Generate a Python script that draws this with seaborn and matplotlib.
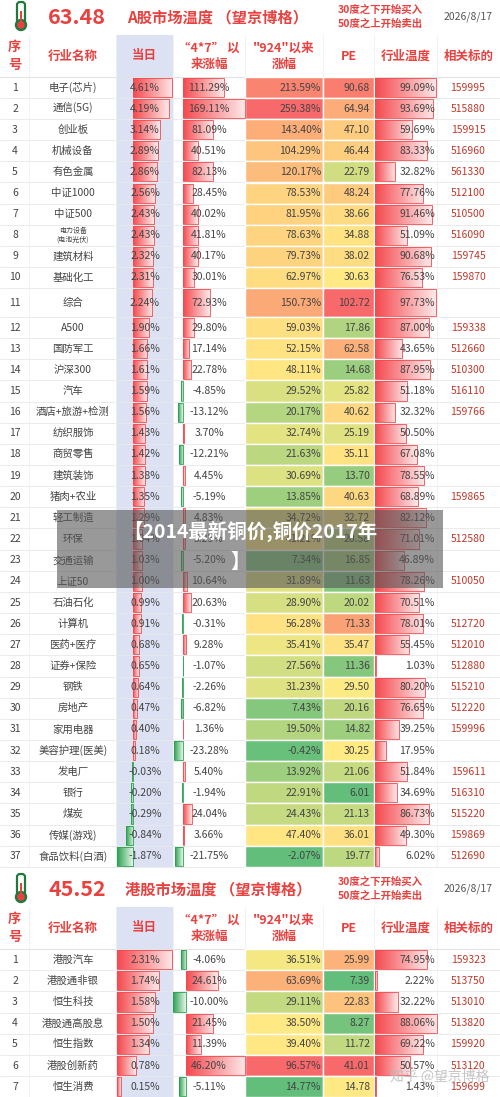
import numpy as np
import matplotlib
matplotlib.use("Agg")
import matplotlib.pyplot as plt
from matplotlib.colors import LinearSegmentedColormap, TwoSlopeNorm
from matplotlib.patches import Rectangle, Circle, FancyBboxPatch
import seaborn as sns

sns.set_theme(style="white")
plt.rcParams['font.family'] = ['Noto Sans CJK SC', 'DejaVu Sans']

# ---------------- data ----------------
a_temp = "63.48"
a_names = ["电子(芯片)", "通信(5G)", "创业板", "机械设备", "有色金属", "中证1000", "中证500", "电力设备\n(电池光伏)",
           "建筑材料", "基础化工", "综合", "A500", "国防军工", "沪深300", "汽车", "酒店+旅游+检测", "纺织服饰",
           "商贸零售", "建筑装饰", "猪肉+农业", "轻工制造", "环保", "交通运输", "上证50", "石油石化", "计算机",
           "医药+医疗", "证券+保险", "钢铁", "房地产", "家用电器", "美容护理(医美)", "发电厂", "银行", "煤炭",
           "传媒(游戏)", "食品饮料(白酒)"]
a_day = [4.61, 4.19, 3.14, 2.89, 2.86, 2.56, 2.43, 2.43, 2.32, 2.31, 2.24, 1.90, 1.66, 1.61, 1.59, 1.56, 1.43,
         1.42, 1.38, 1.35, 1.29, 1.04, 1.03, 1.00, 0.99, 0.91, 0.68, 0.65, 0.64, 0.47, 0.40, 0.18, -0.03, -0.20,
         -0.29, -0.84, -1.87]
a_47 = [111.29, 169.11, 81.09, 40.51, 82.13, 28.45, 40.02, 41.81, 40.17, 30.01, 72.93, 29.80, 17.14, 22.78, -4.85,
        -13.12, 3.70, -12.21, 4.45, -5.19, 4.83, 5.25, -5.20, 10.64, 20.63, -0.31, 9.28, -1.07, -2.26, -6.82, 1.36,
        -23.28, 5.40, -1.94, 24.04, 3.66, -21.75]
a_924 = [213.59, 259.38, 143.40, 104.29, 120.17, 78.53, 81.95, 78.63, 79.73, 62.97, 150.73, 59.03, 52.15, 48.11,
         29.52, 20.17, 32.74, 21.63, 30.69, 13.85, 34.72, 41.21, 7.34, 31.89, 28.90, 56.28, 35.41, 27.56, 31.23, 7.43,
         19.50, -0.42, 13.92, 22.91, 24.43, 47.40, -2.07]
a_pe = [90.68, 64.94, 47.10, 46.44, 22.79, 48.24, 38.66, 34.88, 38.02, 30.63, 102.72, 17.86, 62.58, 14.68, 25.82,
        40.62, 25.19, 35.11, 13.70, 40.63, 32.72, 20.58, 16.85, 11.63, 20.02, 71.33, 35.47, 11.36, 29.50, 20.16,
        14.82, 30.25, 21.06, 6.01, 21.13, 36.01, 19.77]
a_ind = [99.09, 93.69, 59.69, 83.33, 32.82, 77.76, 91.46, 51.09, 90.68, 76.53, 97.73, 87.00, 43.65, 87.95, 51.18,
         32.32, 50.50, 67.08, 78.55, 68.89, 82.12, 71.01, 46.89, 78.26, 70.51, 78.01, 55.45, 1.03, 80.20, 76.65,
         39.25, 17.95, 51.84, 34.69, 86.73, 49.30, 6.02]
a_code = ["159995", "515880", "159915", "516960", "561330", "512100", "510500", "516090", "159745", "159870", "",
          "159338", "512660", "510300", "516110", "159766", "", "", "", "159865", "", "512580", "", "510050", "",
          "512720", "512010", "512880", "515210", "512220", "159996", "", "159611", "516310", "515220", "159869",
          "512690"]

h_temp = "45.52"
h_names = ["港股汽车", "港股通非银", "恒生科技", "港股通高股息", "恒生指数", "港股创新药", "恒生消费"]
h_day = [2.31, 1.74, 1.58, 1.50, 1.34, 0.78, 0.15]
h_47 = [-4.06, 24.61, -10.00, 21.45, 11.39, 46.20, -5.11]
h_924 = [36.51, 63.69, 29.11, 38.50, 39.40, 96.57, 14.77]
h_pe = [25.99, 7.39, 22.83, 8.27, 11.72, 41.01, 14.78]
h_ind = [74.95, 2.22, 32.22, 88.06, 69.22, 50.57, 1.43]
h_code = ["159323", "513750", "513010", "513820", "159920", "513120", "159699"]

headers = ["序\n号", "行业名称", "当日", "“4*7” 以\n来涨幅", "\"924\"以来\n涨幅", "PE", "行业温度", "相关标的"]
date = "2026/8/17"

# ---------------- style ----------------
RED = "#e8413f"
TXT = "#444444"
CODE = "#c0392b"
GREEN = "#2aa24f"
BARRED = "#f44a4f"
heat = LinearSegmentedColormap.from_list("heat", ["#63be7b", "#ffeb84", "#f8696b"])
cols = [0, 29, 116, 173, 245, 323, 374, 437, 500]

fig = plt.figure(figsize=(5, 10.97), dpi=100)
ax = fig.add_axes([0, 0, 1, 1])
ax.set_xlim(0, 500)
ax.set_ylim(1097, 0)
ax.axis("off")


def gbar(x0, w, yc, h, color):
    if abs(w) < 0.3:
        w = 0.6 if w >= 0 else -0.6
    bar = ax.barh(yc, w, left=x0, height=h, color="none", edgecolor=color, lw=0.6, zorder=4)[0]
    cm = LinearSegmentedColormap.from_list("g", [color, "#ffffff"])
    grad = np.linspace(0, 1, 64).reshape(1, -1)
    im = ax.imshow(grad, extent=[min(x0, x0 + w), max(x0, x0 + w), yc + h / 2, yc - h / 2],
                   cmap=cm, aspect="auto", zorder=3, vmin=0, vmax=1.15)
    im.set_clip_path(bar)


def thermo(x, y):
    ax.add_patch(FancyBboxPatch((x - 3, y - 14), 6, 20, boxstyle="round,pad=1,rounding_size=3",
                                fc="white", ec="#1e7b3c", lw=1.6, zorder=5))
    ax.add_patch(Circle((x, y + 8), 5.5, fc="#1e7b3c", ec="#1e7b3c", zorder=5))
    ax.add_patch(Circle((x, y + 8), 3.8, fc=RED, ec="none", zorder=6))
    ax.add_patch(Rectangle((x - 1.2, y - 6), 2.4, 13, fc=RED, ec="none", zorder=6))


def table(ytop, temp, title, names, day, r47, r924, pe, ind, code, heights,
          dscale, dorig, s47, o47, iscale, c924, cpe):
    thermo(21, ytop + 17)
    ax.text(77, ytop + 17, temp, color=RED, fontsize=15.5, fontweight="bold", ha="center", va="center")
    ax.text(218, ytop + 17, title, color=RED, fontsize=11, fontweight="bold", ha="center", va="center")
    ax.text(380, ytop + 10, "30度之下开始买入", color=RED, fontsize=7.5, fontweight="bold", ha="center", va="center")
    ax.text(380, ytop + 24, "50度之上开始卖出", color=RED, fontsize=7.5, fontweight="bold", ha="center", va="center")
    ax.text(468, ytop + 17, date, color="#555555", fontsize=7.5, ha="center", va="center")
    hy0 = ytop + 35
    hy1 = hy0 + 42
    yb = hy1 + sum(heights)
    ax.add_patch(Rectangle((cols[2], hy0), cols[3] - cols[2], yb - hy0, fc="#dce2f3", ec="none", zorder=0))
    for i, hd in enumerate(headers):
        xc = (cols[i] + cols[i + 1]) / 2
        ax.text(xc, (hy0 + hy1) / 2, hd, color=RED, fontsize=9 if i else 9.5, fontweight="bold",
                ha="center", va="center", linespacing=1.3)
    ax.plot([0, 500], [hy1, hy1], color="#e2e2e2", lw=0.8, zorder=1)
    for c in cols[1:-1]:
        ax.plot([c, c], [hy0, yb], color="#f0f0f0", lw=0.6, zorder=1)
    vmin924, vmax924, mid924 = c924
    n924 = TwoSlopeNorm(vcenter=mid924, vmin=vmin924, vmax=vmax924)
    vminpe, vmaxpe, midpe = cpe
    npe = TwoSlopeNorm(vcenter=midpe, vmin=vminpe, vmax=vmaxpe)
    y = hy1
    for i in range(len(names)):
        h = heights[i]
        yc = y + h / 2
        ax.plot([0, 500], [y + h, y + h], color="#e8e8e8", lw=0.6, zorder=1)
        ax.barh(yc, cols[5] - cols[4], left=cols[4], height=h, color=heat(n924(r924[i])), zorder=2)
        ax.barh(yc, cols[6] - cols[5], left=cols[5], height=h, color=heat(npe(pe[i])), zorder=2)
        gbar(dorig, day[i] * dscale, yc, h - 2, BARRED if day[i] >= 0 else GREEN)
        gbar(o47, r47[i] * s47, yc, h - 2, BARRED if r47[i] >= 0 else GREEN)
        gbar(cols[6] + 1, ind[i] * iscale, yc, h - 2, BARRED)
        ax.text(15, yc, str(i + 1), color=TXT, fontsize=7.5, ha="center", va="center", zorder=7)
        multi = "\n" in names[i]
        ax.text(73, yc, names[i], color=TXT, fontsize=5 if multi else 7.5, ha="center", va="center",
                linespacing=1.2, zorder=7)
        ax.text(145, yc, f"{day[i]:.2f}%", color=TXT, fontsize=7.5, ha="center", va="center", zorder=7)
        ax.text(209, yc, f"{r47[i]:.2f}%", color=TXT, fontsize=7.5, ha="center", va="center", zorder=7)
        ax.text(321, yc, f"{r924[i]:.2f}%", color=TXT, fontsize=7.5, ha="right", va="center", zorder=7)
        ax.text(370, yc, f"{pe[i]:.2f}", color=TXT, fontsize=7.5, ha="right", va="center", zorder=7)
        ax.text(435, yc, f"{ind[i]:.2f}%", color=TXT, fontsize=7.5, ha="right", va="center", zorder=7)
        ax.text(468, yc, code[i], color=CODE, fontsize=7.5, ha="center", va="center", zorder=7)
        y += h
    return yb


a_heights = [21.1] * 10 + [29.0] + [21.15] * 26
table(0, a_temp, "A股市场温度 （望京博格）", a_names, a_day, a_47, a_924, a_pe, a_ind, a_code, a_heights,
      8.5, 133, 0.366, 183, 0.62, (-2.07, 259.38, 40), (6.01, 102.72, 30))
table(872, h_temp, "港股市场温度 （望京博格）", h_names, h_day, h_47, h_924, h_pe, h_ind, h_code, [21.2] * 7,
      24, 117, 1.28, 186, 0.7, (14.77, 96.57, 38), (7.39, 41.01, 14.5))

ax.add_patch(Rectangle((57, 510), 386, 78, fc="#555555", alpha=0.6, ec="none", zorder=8))
ax.text(250, 531, "【2014最新铜价,铜价2017年", color="white", fontsize=14, fontweight="bold",
        ha="center", va="center", zorder=9)
ax.text(240, 562, "】", color="white", fontsize=14, fontweight="bold", ha="center", va="center", zorder=9)
ax.text(440, 1077, "知乎 @望京博格", color="#b8b8b8", alpha=0.8, fontsize=10, ha="center", va="center", zorder=9)

ax.set_xlim(0, 500)
ax.set_ylim(1097, 0)
fig.savefig("out.png", dpi=100, facecolor="white")
